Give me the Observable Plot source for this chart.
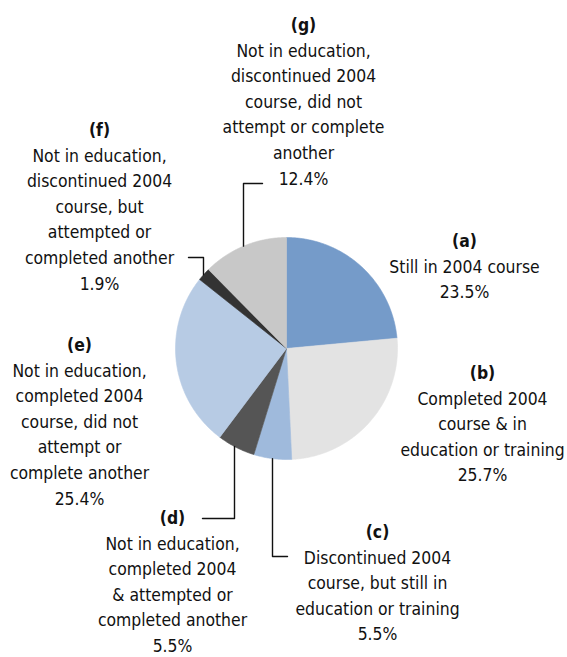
<!DOCTYPE html>
<html>
<head>
<meta charset="utf-8">
<script src="https://cdn.jsdelivr.net/npm/d3@7"></script>
<script src="https://cdn.jsdelivr.net/npm/@observablehq/plot@0.6"></script>
<style>
  html, body { margin: 0; padding: 0; background: #fff; }
  #chart svg { display: block; }
</style>
</head>
<body>
<div id="chart"></div>
<script>
// ---- Data ----
const categories = ["a", "b", "c", "d", "e", "f", "g"];
const letters = ["(a)", "(b)", "(c)", "(d)", "(e)", "(f)", "(g)"];
const shares = [23.5, 25.7, 5.5, 5.5, 25.4, 1.9, 12.4];
const descriptions = [
  ["Still in 2004 course"],
  ["Completed 2004", "course & in", "education or training"],
  ["Discontinued 2004", "course, but still in", "education or training"],
  ["Not in education,", "completed 2004", "& attempted or", "completed another"],
  ["Not in education,", "completed 2004", "course, did not", "attempt or", "complete another"],
  ["Not in education,", "discontinued 2004", "course, but", "attempted or", "completed another"],
  ["Not in education,", "discontinued 2004", "course, did not", "attempt or complete", "another"]
];
const percentLabels = ["23.5%", "25.7%", "5.5%", "5.5%", "25.4%", "1.9%", "12.4%"];

// ---- Styles / layout (kept apart from the data) ----
const sliceColors = ["#759bc9", "#e3e3e3", "#9fbadc", "#555555", "#b7cbe4", "#333333", "#c8c8c8"];
const W = 567, H = 657;
const pie = {cx: 286, cy: 348, r: 111};
const fontSize = 17.4, lineH = 25.6;
const labelAnchors = {
  a: {x: 464, y: 241},
  b: {x: 482, y: 373},
  c: {x: 377, y: 532},
  d: {x: 172, y: 518},
  e: {x: 79, y: 345},
  f: {x: 99, y: 130},
  g: {x: 303, y: 25}
};
const leaders = [
  {key: "g", x: 243, side: "top", elbowY: 183, endX: 262},
  {key: "f", x: 203, side: "top", elbowY: 257, endX: 188},
  {key: "d", x: 234, side: "bottom", elbowY: 518, endX: 202},
  {key: "c", x: 272, side: "bottom", elbowY: 556, endX: 287}
];

// ---- Build tables ----
const rows = categories.map((k, i) => ({key: k, share: shares[i]}));
const arcs = d3.pie().sort(null).value(d => d.share)(rows);

const slicePts = [];
for (const a of arcs) {
  const k = a.data.key;
  slicePts.push({key: k, x: pie.cx, y: pie.cy});
  const n = Math.max(2, Math.ceil((a.endAngle - a.startAngle) / (Math.PI / 360)));
  for (let j = 0; j <= n; j++) {
    const t = a.startAngle + (a.endAngle - a.startAngle) * j / n;
    slicePts.push({key: k, x: pie.cx + pie.r * Math.sin(t), y: pie.cy - pie.r * Math.cos(t)});
  }
  slicePts.push({key: k, x: pie.cx, y: pie.cy});
}

const leaderPts = [];
for (const l of leaders) {
  const dy = Math.sqrt(pie.r * pie.r - (l.x - pie.cx) ** 2);
  const edgeY = l.side === "top" ? pie.cy - dy : pie.cy + dy;
  leaderPts.push({key: l.key, x: l.x, y: edgeY});
  leaderPts.push({key: l.key, x: l.x, y: l.elbowY});
  leaderPts.push({key: l.key, x: l.endX, y: l.elbowY});
}

const textRows = [];
categories.forEach((k, i) => {
  const anc = labelAnchors[k];
  const lines = [letters[i], ...descriptions[i], percentLabels[i]];
  lines.forEach((t, j) => textRows.push({key: k, x: anc.x, y: anc.y + j * lineH, text: t, bold: j === 0}));
});

const chart = Plot.plot({
  width: W,
  height: H,
  margin: 0,
  x: {domain: [0, W], range: [0, W], axis: null},
  y: {domain: [0, H], range: [0, H], axis: null},
  color: {domain: categories, range: sliceColors},
  style: {fontFamily: "'DejaVu Sans Condensed', 'DejaVu Sans', sans-serif", background: "#fff"},
  marks: [
    Plot.line(slicePts, {x: "x", y: "y", z: "key", fill: "key", stroke: "key", strokeWidth: 0.6, curve: "linear"}),
    Plot.line(leaderPts, {x: "x", y: "y", z: "key", stroke: "#111", strokeWidth: 1.4, curve: "linear"}),
    Plot.text(textRows.filter(d => d.bold), {x: "x", y: "y", text: "text", fontSize, fontWeight: "bold", fill: "#111", textAnchor: "middle", lineAnchor: "middle"}),
    Plot.text(textRows.filter(d => !d.bold), {x: "x", y: "y", text: "text", fontSize, fill: "#111", textAnchor: "middle", lineAnchor: "middle"})
  ]
});
document.getElementById("chart").appendChild(chart);
</script>
</body>
</html>
